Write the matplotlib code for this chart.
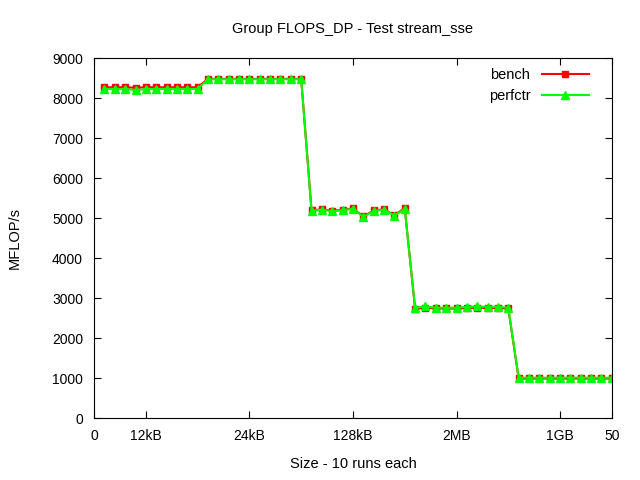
import numpy as np
from matplotlib import pyplot as plt

plt.rcParams['font.family'] = ['Liberation Sans', 'DejaVu Sans']

# 5 sizes x 10 runs each
runs = list(range(1, 51))
tick_pos = [0, 5, 15, 25, 35, 45, 50]
tick_labels = ["0", "12kB", "24kB", "128kB", "2MB", "1GB", "50"]

bench = [8270, 8270, 8270, 8260, 8270, 8270, 8270, 8270, 8270, 8270,
         8480, 8480, 8480, 8480, 8480, 8480, 8480, 8480, 8480, 8480,
         5190, 5220, 5180, 5210, 5240, 5040, 5190, 5220, 5070, 5250,
         2730, 2760, 2740, 2740, 2740, 2750, 2760, 2750, 2750, 2740,
         990, 990, 990, 990, 990, 990, 990, 990, 990, 990]
perfctr = [8230, 8230, 8230, 8200, 8230, 8230, 8230, 8230, 8230, 8230,
           8470, 8470, 8470, 8470, 8470, 8470, 8470, 8470, 8470, 8470,
           5180, 5210, 5170, 5200, 5230, 5030, 5180, 5210, 5060, 5230,
           2760, 2790, 2760, 2760, 2760, 2780, 2790, 2780, 2780, 2760,
           1010, 1010, 1010, 1010, 1010, 1010, 1010, 1010, 1010, 1010]

fig = plt.figure(figsize=(6.4, 4.8), dpi=100)
ax = fig.add_axes([0.147, 0.129, 0.809, 0.75])

ax.plot(runs, bench, color="#ff0000", lw=1.5, marker="s", ms=5, label="bench")
ax.plot(runs, perfctr, color="#00ff00", lw=1.5, marker="^", ms=6, label="perfctr")

ax.set_xlim(0, 50)
ax.set_ylim(0, 9000)
ax.set_xticks(tick_pos)
ax.set_xticklabels(tick_labels)
ax.set_yticks(range(0, 9001, 1000))
ax.tick_params(direction="in", top=True, right=True, labelsize=10, length=5, pad=8)

ax.set_title("Group FLOPS_DP - Test stream_sse", fontsize=10.5, pad=18)
ax.set_xlabel("Size - 10 runs each", fontsize=10.5, labelpad=10)
ax.set_ylabel("MFLOP/s", fontsize=10.5, labelpad=22)

leg = ax.legend(loc="upper right", bbox_to_anchor=(0.975, 1.0), frameon=False,
                markerfirst=False, fontsize=10.5, handlelength=3.2,
                borderaxespad=0.3, labelspacing=0.45)
for t in leg.get_texts():
    t.set_ha("right")

plt.savefig("out.png", dpi=100)
